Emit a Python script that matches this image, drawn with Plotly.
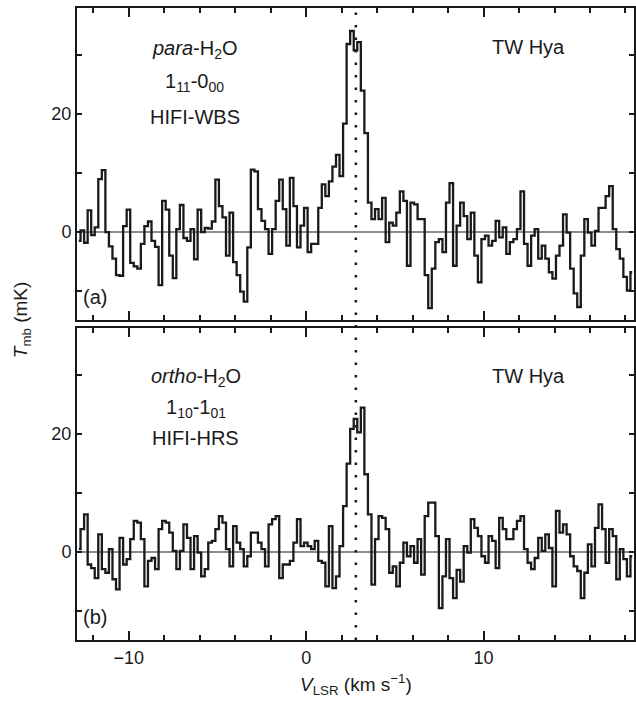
import numpy as np
import plotly.graph_objects as go
from plotly.subplots import make_subplots

# velocity grid of the spectra (channel centres, km/s)
v_first = -12.82
dv = 0.2

# para-H2O 1_11-0_00, HIFI-WBS (mK)
para_tmb = [
    -1.5, 0.3, -1.8, 3.7, -0.5, 0.8, 9.0, 10.5, 0.0, -2.4,
    -4.5, -7.3, -7.4, 1.0, 3.8, -5.2, -5.8, -6.2, -2.0, 1.0,
    1.8, -1.5, -2.5, -9.0, 5.3, 3.8, -4.0, -7.8, 0.5, 4.6,
    -1.0, -1.5, 0.5, -4.6, 3.8, 0.0, 0.7, 0.6, 1.8, 8.9,
    4.4, 2.5, -4.0, 3.3, -5.1, -7.3, -10.1, -11.8, -2.6, 10.6,
    10.3, 3.9, 1.9, 0.5, -3.7, 0.5, 5.3, 8.9, 3.9, -2.3,
    9.2, 4.4, -2.6, 1.1, 4.1, -3.4, -2.0, -2.0, 4.1, 8.1,
    6.1, 8.6, 11.1, 13.1, 9.5, 18.4, 31.9, 34.1, 30.8, 32.2,
    24.0, 16.8, 5.0, 2.2, 3.9, 2.2, 5.8, -1.7, 1.6, 1.1,
    3.3, 6.9, 5.3, -5.7, 5.0, 4.7, 2.2, 2.2, -7.3, -12.9,
    -6.2, -1.7, -1.2, -3.4, 5.0, 8.3, -5.7, 1.1, 5.0, 2.7,
    -1.2, 3.3, -4.0, -8.5, -1.2, -0.6, -2.3, -1.5, 1.9, -0.9,
    0.8, -3.7, -1.7, -1.2, 0.5, 6.9, -2.0, -5.7, -0.6, 0.5,
    -4.5, -2.3, -4.5, -6.8, -7.9, -4.0, -2.3, 3.0, -0.1, -6.2,
    -10.4, -12.7, -4.0, 2.2, -0.1, -2.3, 0.2, 4.1, 4.1, 6.1,
    7.8, 0.5, -2.9, -4.5, -7.6, -9.9, -6.8,
]

# ortho-H2O 1_10-1_01, HIFI-HRS (mK)
ortho_tmb = [
    0.5, 3.9, 6.4, -2.1, -2.7, -4.4, 3.0, -2.9, -3.5, 0.5,
    -4.6, -6.3, 2.4, -2.1, -1.2, 2.2, 5.3, 5.0, 2.2, -5.8,
    -1.5, -1.0, -2.9, 3.9, 5.3, 5.0, 3.3, 0.2, -2.9, 0.2,
    4.7, 2.4, -2.9, 2.7, -0.1, -4.1, -2.9, 1.6, 1.9, 3.9,
    6.1, 5.0, 0.5, -2.4, 4.4, 1.6, 0.5, -2.4, -0.7, 3.3,
    3.3, 1.6, 0.5, -2.4, 4.7, 5.6, 6.1, -4.4, -2.1, -2.1,
    -1.5, 1.6, 5.6, 1.0, 1.6, 1.0, 0.5, 1.9, -1.5, -1.8,
    -5.8, 4.4, -6.1, -4.1, 1.0, 7.8, 15.0, 20.9, 22.6, 20.3,
    24.5, 13.2, 6.4, -5.5, 2.2, 6.1, 5.8, 3.9, -3.5, -2.4,
    -5.8, -1.8, 1.6, -0.7, 1.0, -1.8, 2.2, -3.8, 6.1, 8.4,
    8.4, 2.7, -9.5, -4.1, 2.2, -4.4, -7.8, -3.0, -5.0, 1.0,
    -0.1, 5.6, 4.1, 2.7, -0.7, -1.8, 2.7, 1.9, -2.7, 5.8,
    3.9, 2.2, 2.2, 3.9, 5.3, 6.1, 0.5, -1.8, -2.9, -1.0,
    2.4, 0.2, 3.0, 0.7, -5.8, 7.0, 3.3, 4.7, 3.0, -0.7,
    -2.4, -3.2, -7.8, -3.5, 1.3, -2.4, 4.1, 8.1, 3.9, -1.8,
    3.9, 2.7, -4.6, 0.5, -1.2, -4.1, -0.7,
]

v_source = 2.8  # systemic velocity (dotted line)

vel_para = v_first + dv * np.arange(len(para_tmb))
vel_ortho = v_first + dv * np.arange(len(ortho_tmb))

W, H = 636, 702
ML, MR, MT, MB = 77, 0, 8, 62
PW, PH = W - ML - MR, H - MT - MB


def px(x):
    return (x - ML) / PW


def py(y):
    return (H - MB - y) / PH


FONT = "Liberation Sans, Arial, Helvetica, sans-serif"
INK = "#1a1a1a"

fig = make_subplots(rows=2, cols=1, shared_xaxes=True, vertical_spacing=8 / PH)

fig.add_trace(go.Scatter(x=vel_para, y=para_tmb, mode="lines", line_shape="hvh",
                         line=dict(color=INK, width=2.3), showlegend=False), 1, 1)
fig.add_trace(go.Scatter(x=vel_ortho, y=ortho_tmb, mode="lines", line_shape="hvh",
                         line=dict(color=INK, width=2.3), showlegend=False), 2, 1)

minor_x = [-12, -8, -6, -4, -2, 2, 4, 6, 8, 12, 14, 16, 18]
fig.update_xaxes(
    range=[-12.92, 18.48], showgrid=False, zeroline=False,
    showline=True, linecolor=INK, linewidth=2, mirror="ticks",
    ticks="inside", tickvals=[-10, 0, 10], ticktext=["\u221210", "0", "10"],
    ticklen=9, tickwidth=1.5, tickcolor=INK,
    minor=dict(tickvals=minor_x, ticks="inside", ticklen=5, tickwidth=1.5, tickcolor=INK),
    tickfont=dict(family=FONT, size=18, color=INK),
)
fig.update_xaxes(showticklabels=False, row=1, col=1)

fig.update_yaxes(
    range=[-14.9, 38.0], showgrid=False,
    zeroline=True, zerolinecolor="#8c8c8c", zerolinewidth=1.8,
    showline=True, linecolor=INK, linewidth=2, mirror="ticks",
    ticks="inside", tickvals=[-10, 0, 10, 20, 30], ticktext=["", "0", "", "20", ""],
    ticklen=5, tickwidth=1.5, tickcolor=INK,
    tickfont=dict(family=FONT, size=18, color=INK),
)
fig.update_layout(yaxis=dict(domain=[py(320), 1.0]), yaxis2=dict(domain=[0.0, py(328)]))

fig.add_shape(type="line", xref="x", yref="paper", x0=v_source, x1=v_source, y0=0, y1=1,
              line=dict(color=INK, width=2.5, dash="2.5px,10px"))

labels = [
    ("<i>para</i>-H<sub>2</sub>O", 195, 49),
    ("1<sub>11</sub>-0<sub>00</sub>", 195, 83),
    ("HIFI-WBS", 195, 117),
    ("TW Hya", 530, 47),
    ("(a)", 95, 297),
    ("<i>ortho</i>-H<sub>2</sub>O", 196, 377),
    ("1<sub>10</sub>-1<sub>01</sub>", 196, 408),
    ("HIFI-HRS", 196, 438),
    ("TW Hya", 530, 376),
    ("(b)", 95, 617),
]
for text, x, y in labels:
    fig.add_annotation(text=text, x=px(x), y=py(y), xref="paper", yref="paper",
                       showarrow=False, xanchor="center", yanchor="middle",
                       font=dict(family=FONT, size=20, color=INK))

fig.add_annotation(text="<i>T</i><sub>mb</sub> (mK)", x=px(22), y=py(320),
                   xref="paper", yref="paper", showarrow=False, textangle=-90,
                   xanchor="center", yanchor="middle",
                   font=dict(family=FONT, size=19, color=INK))
fig.add_annotation(text="<i>V</i><sub>LSR</sub> (km s<sup>\u22121</sup>)", x=px(357), y=py(684),
                   xref="paper", yref="paper", showarrow=False,
                   xanchor="center", yanchor="middle",
                   font=dict(family=FONT, size=19, color=INK))

fig.update_layout(
    width=W, height=H,
    margin=dict(l=ML, r=MR, t=MT, b=MB),
    paper_bgcolor="white", plot_bgcolor="white",
    font=dict(family=FONT, color=INK),
)

# page body margin off so the figure sits at the window's top-left corner
fig.write_html("out.html", config={"displayModeBar": False},
               post_script="document.body.style.margin='0';")
